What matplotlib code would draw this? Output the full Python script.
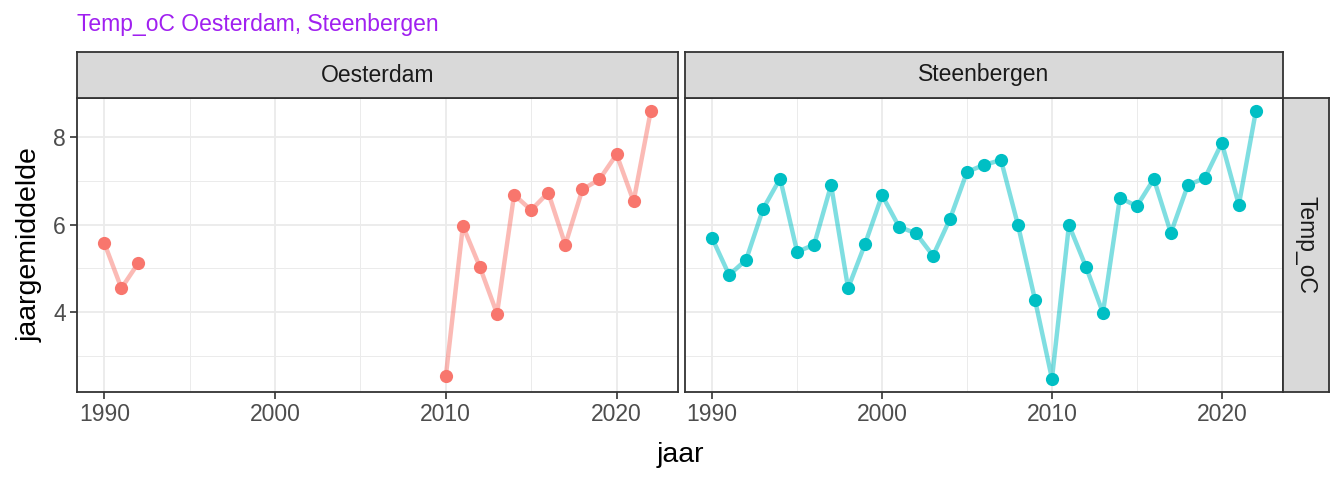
import numpy as np
import matplotlib.pyplot as plt

plt.rcParams['font.family'] = ['Liberation Sans', 'DejaVu Sans']

jaar_oost = [1990, 1991, 1992, 2010, 2011, 2012, 2013, 2014, 2015, 2016,
             2017, 2018, 2019, 2020, 2021, 2022]
temp_oost = [5.58, 4.55, 5.13, 2.54, 5.97, 5.03, 3.97, 6.68, 6.33, 6.73,
             5.54, 6.80, 7.03, 7.60, 6.53, 8.58]

jaar_steen = list(range(1990, 2023))
temp_steen = [5.69, 4.85, 5.20, 6.36, 7.05, 5.38, 5.54, 6.90, 4.55, 5.56,
              6.67, 5.95, 5.80, 5.29, 6.13, 7.20, 7.36, 7.47, 5.99, 4.29,
              2.49, 5.99, 5.04, 3.99, 6.61, 6.42, 7.04, 5.81, 6.90, 7.06,
              7.86, 6.45, 8.58]

locaties = ['Oesterdam', 'Steenbergen']
kleuren = ['#F8766D', '#00BFC4']
xticks = [1990, 2000, 2010, 2020]
yticks = [4, 6, 8]

W, H = 1344, 480
fig = plt.figure(figsize=(W / 100, H / 100), dpi=100)

top, bottom = 98, 392
strip_top = 52
panels = [(77, 678), (685, 1283)]
strip_right = 1329

x_all = jaar_steen
y_all = temp_oost + temp_steen
xr = max(x_all) - min(x_all)
yr = max(y_all) - min(y_all)
xlim = (min(x_all) - 0.05 * xr, max(x_all) + 0.05 * xr)
ylim = (min(y_all) - 0.05 * yr, max(y_all) + 0.05 * yr)

data = [(jaar_oost, temp_oost), (jaar_steen, temp_steen)]


def style_box(a):
    a.set_xticks([])
    a.set_yticks([])
    a.set_facecolor('#D9D9D9')
    for s in a.spines.values():
        s.set_color('#333333')
        s.set_linewidth(1.3)


for i, (x0, x1) in enumerate(panels):
    ax = fig.add_axes([x0 / W, 1 - bottom / H, (x1 - x0) / W, (bottom - top) / H])
    x = np.array(data[i][0])
    y = np.array(data[i][1])
    # line breaks where years are missing
    gaps = np.where(np.diff(x) > 1)[0] + 1
    for xs, ys in zip(np.split(x, gaps), np.split(y, gaps)):
        ax.plot(xs, ys, color=kleuren[i], alpha=0.5, lw=3.2, zorder=2)
    ax.plot(x, y, 'o', color=kleuren[i], ms=9.5, mec='none', zorder=3)
    ax.set_xlim(xlim)
    ax.set_ylim(ylim)
    ax.set_xticks(xticks)
    ax.set_xticks([1995, 2005, 2015], minor=True)
    ax.set_yticks(yticks)
    ax.set_yticks([3, 5, 7], minor=True)
    ax.grid(which='major', color='#EBEBEB', lw=1.3)
    ax.grid(which='minor', color='#EBEBEB', lw=0.7)
    ax.set_axisbelow(True)
    for s in ax.spines.values():
        s.set_color('#333333')
        s.set_linewidth(1.3)
    ax.tick_params(which='major', length=5, width=1.2, color='#333333',
                   labelsize=16.5, labelcolor='#4D4D4D', pad=3)
    ax.tick_params(which='minor', length=0)
    if i == 1:
        ax.tick_params(axis='y', labelleft=False, length=0)

    sax = fig.add_axes([x0 / W, 1 - top / H, (x1 - x0) / W, (top - strip_top) / H])
    style_box(sax)
    sax.text(0.5, 0.5, locaties[i], ha='center', va='center', fontsize=16.5,
             color='#1A1A1A', transform=sax.transAxes)

rx0 = panels[1][1]
rax = fig.add_axes([rx0 / W, 1 - bottom / H, (strip_right - rx0) / W, (bottom - top) / H])
style_box(rax)
rax.text(0.5, 0.5, 'Temp_oC', ha='center', va='center', rotation=-90, fontsize=16.5,
         color='#1A1A1A', transform=rax.transAxes)

fig.text(77 / W, 1 - 24 / H, 'Temp_oC Oesterdam, Steenbergen', color='#A020F0',
         fontsize=16.5, ha='left', va='center')
fig.text((panels[0][0] + panels[1][1]) / 2 / W, 1 - 455 / H, 'jaar', fontsize=20.5,
         ha='center', va='center')
fig.text(30 / W, 1 - 245 / H, 'jaargemiddelde', fontsize=20.5, rotation=90,
         ha='center', va='center')

fig.savefig('out.png', dpi=100)
